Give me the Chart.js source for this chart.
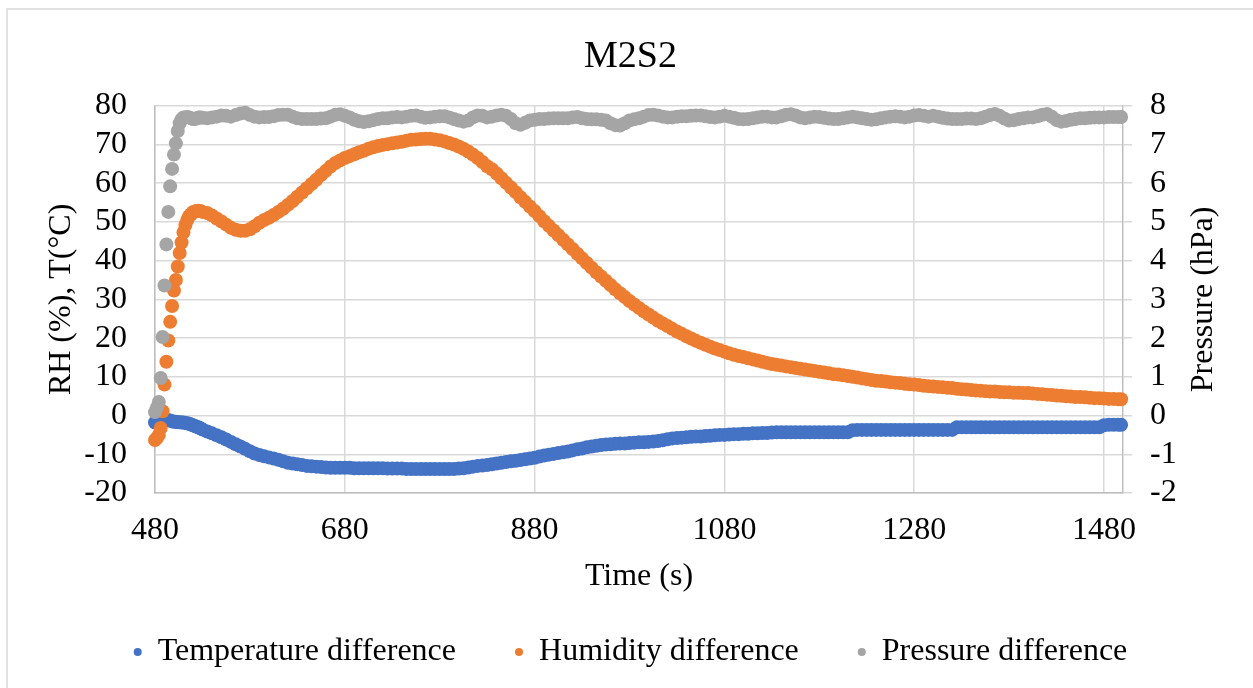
<!DOCTYPE html>
<html>
<head>
<meta charset="utf-8">
<title>M2S2</title>
<script src="https://cdn.jsdelivr.net/npm/chart.js@4.4.1/dist/chart.umd.min.js"></script>
<style>
  html, body { margin: 0; padding: 0; background: #fff; }
  #wrap { width: 1253px; height: 688px; position: relative; }
</style>
</head>
<body>
<div id="wrap"><canvas id="m2s2Chart"></canvas></div>
<script>
// sample times (s)
const time = [
  480,482,484,486,488,490,492,494,496,498,500,502,504,506,508,510,512,514,516,518,520,522,524,526,528,530,
  535,540,545,550,555,560,565,570,575,580,585,590,595,600,605,610,615,620,625,630,
  635,640,645,650,655,660,665,670,675,680,685,690,695,700,705,710,715,720,725,730,
  735,740,745,750,755,760,765,770,775,780,785,790,795,800,805,810,815,820,825,830,
  835,840,845,850,855,860,865,870,875,880,885,890,895,900,905,910,915,920,925,930,
  935,940,945,950,955,960,965,970,975,980,985,990,995,1000,1005,1010,1015,1020,1025,1030,
  1035,1040,1045,1050,1055,1060,1065,1070,1075,1080,1085,1090,1095,1100,1105,1110,1115,1120,1125,1130,
  1135,1140,1145,1150,1155,1160,1165,1170,1175,1180,1185,1190,1195,1200,1205,1210,1215,1220,1225,1230,
  1235,1240,1245,1250,1255,1260,1265,1270,1275,1280,1285,1290,1295,1300,1305,1310,1315,1320,1325,1330,
  1335,1340,1345,1350,1355,1360,1365,1370,1375,1380,1385,1390,1395,1400,1405,1410,1415,1420,1425,1430,
  1435,1440,1445,1450,1455,1460,1465,1470,1475,1480,1485,1490,1495,1498
];

// temperature difference (°C)
const tempDiff = [
  -1.8,-1.6,-1.4,-1.2,-1.1,-1.0,-1.1,-1.2,-1.3,-1.5,-1.6,-1.6,-1.7,-1.7,-1.8,-1.8,-1.9,-2.0,-2.1,-2.3,-2.5,-2.7,-2.9,-3.1,-3.3,-3.6,
  -4.1,-4.6,-5.1,-5.6,-6.2,-6.8,-7.4,-8.0,-8.6,-9.2,-9.8,-10.2,-10.5,-10.8,-11.1,-11.4,-11.8,-12.2,-12.4,-12.6,
  -12.8,-13.0,-13.1,-13.2,-13.3,-13.4,-13.5,-13.5,-13.5,-13.5,-13.5,-13.6,-13.6,-13.6,-13.6,-13.6,-13.6,-13.6,-13.7,-13.7,
  -13.7,-13.7,-13.8,-13.8,-13.8,-13.8,-13.8,-13.8,-13.8,-13.8,-13.8,-13.8,-13.8,-13.7,-13.6,-13.4,-13.2,-13.0,-12.9,-12.8,
  -12.6,-12.4,-12.2,-12.0,-11.8,-11.7,-11.5,-11.3,-11.1,-10.9,-10.6,-10.3,-10.1,-9.9,-9.7,-9.5,-9.3,-9.0,-8.7,-8.5,
  -8.2,-8.0,-7.8,-7.6,-7.5,-7.4,-7.3,-7.2,-7.2,-7.1,-7.0,-6.9,-6.9,-6.8,-6.7,-6.6,-6.4,-6.1,-5.9,-5.8,
  -5.7,-5.6,-5.5,-5.4,-5.4,-5.3,-5.2,-5.1,-5.0,-5.0,-4.9,-4.8,-4.8,-4.7,-4.7,-4.6,-4.6,-4.5,-4.5,-4.4,
  -4.3,-4.3,-4.3,-4.3,-4.3,-4.3,-4.3,-4.3,-4.3,-4.3,-4.3,-4.3,-4.3,-4.3,-4.3,-4.3,-3.8,-3.7,-3.7,-3.7,
  -3.7,-3.7,-3.7,-3.7,-3.7,-3.7,-3.7,-3.7,-3.7,-3.7,-3.7,-3.7,-3.7,-3.7,-3.7,-3.7,-3.7,-3.7,-3.0,-3.0,
  -3.0,-3.0,-3.0,-3.0,-3.0,-3.0,-3.0,-3.0,-3.0,-3.0,-3.0,-3.0,-3.0,-3.0,-3.0,-3.0,-3.0,-3.0,-3.0,-3.0,
  -3.0,-3.0,-3.0,-3.0,-3.0,-3.0,-3.0,-3.0,-3.0,-2.5,-2.4,-2.4,-2.4,-2.4
];

// humidity difference (%RH)
const humDiff = [
  -6.3,-5.8,-5.0,-3.2,1.1,8.0,13.9,19.4,24.2,28.3,32.3,35.0,38.5,42.0,44.7,47.3,49.2,50.5,51.5,52.0,52.5,52.7,52.8,52.9,52.8,52.6,
  52.3,51.7,50.9,50.1,49.3,48.5,48.0,47.7,47.7,48.1,48.9,49.8,50.5,51.1,51.8,52.6,53.4,54.4,55.4,56.5,
  57.6,58.7,59.8,60.9,62.1,63.2,64.3,65.2,65.9,66.5,67.0,67.5,68.0,68.4,68.9,69.3,69.6,69.9,70.1,70.3,
  70.5,70.7,71.0,71.2,71.3,71.4,71.5,71.5,71.3,71.1,70.8,70.4,70.0,69.5,68.9,68.2,67.4,66.5,65.5,64.4,
  63.6,62.5,61.3,60.1,58.9,57.7,56.4,55.2,54.0,52.8,51.5,50.2,49.0,47.8,46.6,45.4,44.2,43.0,41.8,40.6,
  39.4,38.2,37.0,35.9,34.8,33.7,32.6,31.6,30.6,29.6,28.7,27.8,26.9,26.1,25.3,24.5,23.8,23.1,22.4,21.7,
  21.1,20.5,19.9,19.3,18.8,18.3,17.8,17.3,16.9,16.5,16.1,15.7,15.4,15.1,14.8,14.5,14.2,13.9,13.6,13.3,
  13.1,12.9,12.7,12.5,12.3,12.1,11.9,11.7,11.5,11.3,11.1,10.9,10.7,10.6,10.4,10.2,10.0,9.8,9.6,9.4,
  9.2,9.0,8.9,8.8,8.6,8.5,8.4,8.2,8.1,8.0,7.9,7.7,7.6,7.5,7.4,7.3,7.2,7.1,6.9,6.8,
  6.7,6.6,6.5,6.4,6.3,6.2,6.2,6.1,6.0,6.0,5.9,5.9,5.8,5.8,5.7,5.6,5.5,5.4,5.3,5.2,
  5.1,5.0,4.9,4.8,4.8,4.7,4.6,4.5,4.5,4.4,4.3,4.3,4.2,4.2
];

// pressure difference (hPa), right axis
const presDiff = [
  0.09,0.2,0.35,0.97,2.03,3.36,4.42,5.26,5.92,6.37,6.74,7.03,7.35,7.55,7.65,7.70,7.70,7.71,7.70,7.68,7.66,7.66,7.68,7.70,7.70,7.69,
  7.68,7.70,7.72,7.75,7.74,7.72,7.76,7.80,7.82,7.76,7.72,7.70,7.71,7.71,7.73,7.76,7.77,7.77,7.72,7.68,
  7.66,7.66,7.66,7.66,7.67,7.68,7.72,7.77,7.78,7.74,7.70,7.64,7.60,7.58,7.60,7.63,7.66,7.68,7.68,7.70,
  7.71,7.70,7.72,7.74,7.75,7.72,7.69,7.70,7.72,7.73,7.73,7.70,7.66,7.62,7.59,7.62,7.70,7.75,7.74,7.70,
  7.72,7.75,7.77,7.74,7.66,7.55,7.51,7.56,7.62,7.64,7.66,7.66,7.67,7.68,7.68,7.68,7.68,7.70,7.71,7.68,
  7.66,7.65,7.65,7.64,7.62,7.55,7.50,7.49,7.55,7.62,7.65,7.68,7.72,7.76,7.77,7.75,7.72,7.70,7.70,7.72,
  7.73,7.73,7.74,7.75,7.75,7.73,7.71,7.70,7.72,7.74,7.72,7.69,7.66,7.65,7.66,7.68,7.70,7.72,7.72,7.70,
  7.70,7.73,7.77,7.78,7.75,7.70,7.68,7.70,7.72,7.71,7.69,7.67,7.66,7.66,7.68,7.70,7.72,7.70,7.68,7.66,
  7.64,7.65,7.68,7.70,7.72,7.73,7.72,7.70,7.72,7.75,7.76,7.74,7.72,7.74,7.72,7.69,7.67,7.66,7.66,7.66,
  7.67,7.67,7.66,7.68,7.72,7.76,7.79,7.74,7.67,7.62,7.63,7.66,7.68,7.70,7.70,7.73,7.77,7.79,7.72,7.63,
  7.59,7.61,7.64,7.66,7.68,7.68,7.69,7.70,7.70,7.70,7.71,7.71,7.71,7.71
];

const xTicks = [480, 680, 880, 1080, 1280, 1480];

const FONT = '"Liberation Serif", "Times New Roman", serif';
const TEXT_SIZE = 32;
const GRID = '#D9D9D9';
const AXIS = '#BFBFBF';
const MARKER = 7;

function points(values) {
  return time.map((t, i) => ({ x: t, y: values[i] }));
}

// white background, outer frame and the right-hand axis title (reads bottom-up)
const framePlugin = {
  id: 'frame',
  beforeDraw(chart) {
    const { ctx, width, height } = chart;
    ctx.save();
    ctx.fillStyle = '#fff';
    ctx.fillRect(0, 0, width, height);
    ctx.strokeStyle = GRID;
    ctx.lineWidth = 1.5;
    ctx.strokeRect(7, 9, width + 20, height + 20);
    ctx.restore();
  },
  afterDraw(chart) {
    const { ctx } = chart;
    const y1 = chart.scales.y1;
    ctx.save();
    ctx.translate(y1.left + 81, (y1.top + y1.bottom) / 2);
    ctx.rotate(-Math.PI / 2);
    ctx.font = TEXT_SIZE + 'px ' + FONT;
    ctx.fillStyle = '#000';
    ctx.textAlign = 'center';
    ctx.textBaseline = 'middle';
    ctx.fillText('Pressure (hPa)', 0, 0);
    ctx.restore();
  }
};

const textFont = { family: FONT, size: TEXT_SIZE };
const plainNumber = v => String(v);

function series(label, values, color, axisId, order) {
  return {
    label: label,
    data: points(values),
    yAxisID: axisId,
    backgroundColor: color,
    borderColor: color,
    pointBackgroundColor: color,
    pointRadius: MARKER,
    pointHoverRadius: MARKER,
    pointBorderWidth: 0,
    clip: false,
    order: order
  };
}

const ctx = document.getElementById('m2s2Chart').getContext('2d');

new Chart(ctx, {
  type: 'scatter',
  data: {
    datasets: [
      series('Temperature difference', tempDiff, '#4472C4', 'y', 2),
      series('Humidity difference', humDiff, '#ED7D31', 'y', 1),
      series('Pressure difference', presDiff, '#A5A5A5', 'y1', 0)
    ]
  },
  options: {
    responsive: true,
    maintainAspectRatio: false,
    devicePixelRatio: 1,
    animation: false,
    events: [],
    elements: {
      point: { radius: MARKER, hoverRadius: MARKER, borderWidth: 0, pointStyle: 'circle' }
    },
    layout: {
      padding: { left: 8, right: 0, top: 0, bottom: 10 }
    },
    plugins: {
      title: {
        display: true,
        text: 'M2S2',
        color: '#000',
        font: { family: FONT, size: 38, weight: 'normal' },
        padding: { top: 34.6, bottom: 25.6 }
      },
      legend: {
        position: 'bottom',
        labels: {
          color: '#000',
          font: textFont,
          usePointStyle: true,
          pointStyle: 'circle',
          boxWidth: 8,
          boxHeight: 5.7,
          padding: 59,
          sort: (a, b) => a.datasetIndex - b.datasetIndex
        }
      },
      tooltip: { enabled: false }
    },
    scales: {
      x: {
        type: 'linear',
        min: 480,
        max: 1500,
        afterBuildTicks: axis => { axis.ticks = xTicks.map(v => ({ value: v })); },
        afterFit: axis => { axis.height = 84; },
        grid: { color: GRID, lineWidth: 1.5, drawTicks: false },
        border: { display: true, color: AXIS, width: 1.5 },
        ticks: {
          color: '#000',
          font: textFont,
          padding: 18.8,
          maxRotation: 0,
          autoSkip: false,
          callback: plainNumber
        },
        title: {
          display: true,
          text: 'Time (s)',
          color: '#000',
          font: textFont,
          padding: { top: 0, bottom: -19.2 }
        }
      },
      y: {
        position: 'left',
        min: -20,
        max: 80,
        afterFit: axis => { axis.width = 147; },
        grid: { color: GRID, lineWidth: 1.5, drawTicks: false },
        border: { display: true, color: AXIS, width: 1.5 },
        ticks: {
          stepSize: 10,
          autoSkip: false,
          color: '#000',
          font: textFont,
          padding: 28,
          callback: plainNumber
        },
        title: {
          display: true,
          text: 'RH (%), T(°C)',
          color: '#000',
          font: textFont,
          padding: { top: 34.8, bottom: 0 }
        }
      },
      y1: {
        position: 'right',
        min: -2,
        max: 8,
        afterFit: axis => { axis.width = 130; },
        grid: {
          drawOnChartArea: false,
          drawTicks: true,
          tickLength: 9,
          tickColor: GRID,
          lineWidth: 1.5
        },
        border: { display: true, color: AXIS, width: 1.5 },
        ticks: {
          stepSize: 1,
          autoSkip: false,
          color: '#000',
          font: textFont,
          padding: 18,
          callback: plainNumber
        }
      }
    }
  },
  plugins: [framePlugin]
});
</script>
</body>
</html>
